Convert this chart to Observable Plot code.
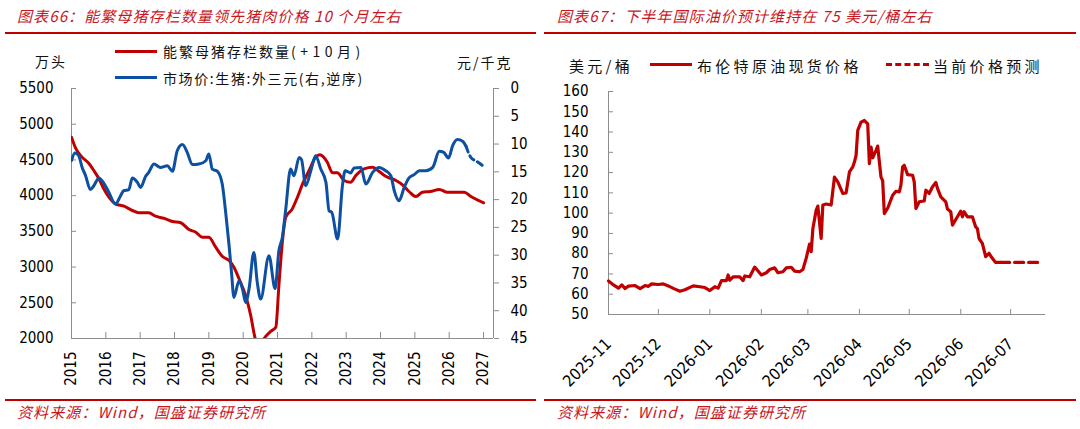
<!DOCTYPE html>
<html><head><meta charset="utf-8">
<script src="https://cdn.jsdelivr.net/npm/d3@7"></script>
<script src="https://cdn.jsdelivr.net/npm/@observablehq/plot@0.6"></script>
<style>
body{margin:0;background:#fff;width:1080px;height:429px;position:relative;overflow:hidden;font-family:"Noto Sans CJK SC",sans-serif;}
.t{position:absolute;white-space:nowrap;line-height:1;transform:translateY(-50%);}
.title{font-style:italic;color:#c8161e;font-size:15px;letter-spacing:1.1px;}
.rule{position:absolute;height:2px;background:#c00000;}
.leg{font-size:14px;letter-spacing:2px;color:#111;}
.wide{letter-spacing:4.5px;}
.leg2{font-size:15px;letter-spacing:3.3px;color:#111;}
.sw{position:absolute;height:0;border-top:3px solid;}
.chart{position:absolute;top:80px;}
.chart svg text{font-stretch:condensed;}
</style></head><body>
<div id="L" class="chart" style="left:0"></div>
<div id="R" class="chart" style="left:540px"></div>

<div class="t title" style="left:17px;top:15px">图表66：能繁母猪存栏数量领先猪肉价格 10 个月左右</div>
<div class="rule" style="left:5px;width:531px;top:32px"></div>
<div class="t leg" style="left:35px;top:61px">万头</div>
<div class="sw" style="left:115px;width:42px;top:50px;border-color:#c00000"></div>
<div class="t leg" style="left:163px;top:51px">能繁母猪存栏数量<span class="wide">(+10月</span>)</div>
<div class="sw" style="left:115px;width:42px;top:76px;border-color:#0d4fa0"></div>
<div class="t leg" style="left:163px;top:78px;letter-spacing:1.6px">市场价:生猪:外三元(右,逆序)</div>
<div class="t leg" style="left:457px;top:62px">元/千克</div>
<div class="rule" style="left:5px;width:531px;top:399px"></div>
<div class="t title" style="left:17px;top:411px">资料来源：Wind，国盛证券研究所</div>

<div class="t title" style="left:557px;top:15px">图表67：下半年国际油价预计维持在 75 美元/桶左右</div>
<div class="rule" style="left:544px;width:532px;top:32px"></div>
<div class="t leg2" style="left:569px;top:65px">美元/桶</div>
<div class="sw" style="left:650px;width:42px;top:63px;border-color:#c00000"></div>
<div class="t leg2" style="left:697px;top:65px">布伦特原油现货价格</div>
<div class="sw" style="left:886px;width:43px;top:63px;border-top:3px dashed #c00000"></div>
<div class="t leg2" style="left:933px;top:65px">当前价格预测</div>
<div class="rule" style="left:544px;width:532px;top:399px"></div>
<div class="t title" style="left:557px;top:411px">资料来源：Wind，国盛证券研究所</div>

<script>
// ---------- Left chart data ----------
const yearTicks = [2015,2016,2017,2018,2019,2020,2021,2022,2023,2024,2025,2026,2027];
const leftTicks = [2000,2500,3000,3500,4000,4500,5000,5500];
const rightTicks = [0,5,10,15,20,25,30,35,40,45];

const sowYear = [2015.00,2015.12,2015.31,2015.49,2015.65,2015.80,2015.94,2016.09,2016.28,2016.53,2016.77,2016.96,2017.25,2017.45,2017.74,2017.94,2018.18,2018.42,2018.62,2018.81,2019.00,2019.20,2019.39,2019.59,2019.73,2019.88,2020.07,2020.22,2020.31,2020.45,2020.61,2020.80,2020.95,2021.04,2021.14,2021.24,2021.43,2021.58,2021.73,2021.92,2022.11,2022.23,2022.45,2022.60,2022.74,2022.94,2023.13,2023.28,2023.52,2023.77,2023.96,2024.15,2024.45,2024.64,2024.83,2025.03,2025.22,2025.45,2025.71,2025.95,2026.44,2026.63,2026.92,2027.00];
const sowValue = [4818,4664,4538,4460,4352,4236,4096,3978,3885,3852,3792,3760,3760,3712,3675,3638,3620,3526,3488,3418,3418,3278,3152,3092,2998,2836,2602,2322,2088,1850,2000,2100,2158,2742,3348,3698,3815,3978,4165,4352,4538,4572,4468,4320,4320,4212,4188,4282,4376,4398,4338,4272,4212,4152,4058,3988,4048,4058,4086,4048,4048,3988,3918,3900];

const hogYear = [2015.00,2015.10,2015.21,2015.31,2015.41,2015.55,2015.65,2015.80,2015.89,2016.09,2016.28,2016.43,2016.52,2016.67,2016.77,2016.92,2017.01,2017.16,2017.25,2017.40,2017.59,2017.79,2017.94,2018.08,2018.23,2018.37,2018.52,2018.71,2018.91,2019.00,2019.10,2019.25,2019.39,2019.49,2019.59,2019.66,2019.73,2019.88,2019.98,2020.07,2020.17,2020.31,2020.41,2020.51,2020.75,2020.93,2021.04,2021.14,2021.24,2021.38,2021.48,2021.63,2021.70,2021.82,2021.97,2022.11,2022.26,2022.41,2022.50,2022.58,2022.75,2022.89,2022.97,2023.13,2023.23,2023.43,2023.57,2023.77,2023.96,2024.15,2024.30,2024.40,2024.54,2024.69,2024.83,2024.98,2025.13,2025.32,2025.52,2025.71,2025.84,2025.98,2026.10,2026.24,2026.39,2026.49];
const hogPrice = [12.96,11.6,12.1,14.2,15.7,18.2,17.5,16.1,16.6,18.7,20.8,19.3,18.4,18.2,16.1,16.9,17.8,15.8,15.1,13.6,14.2,13.9,14.9,11.2,10.1,11.5,13.7,13.6,13.0,11.8,14.5,14.9,17.2,22.3,28.3,33.1,37.6,34.6,36.1,38.5,36.1,29.5,34.9,37.9,30.1,36.0,29.2,26.8,21.7,14.5,15.7,12.4,12.8,17.5,14.8,12.1,14.5,16.9,22.0,22.3,27.1,17.5,14.8,15.2,14.3,14.2,17.2,15.1,14.2,14.8,15.7,18.4,20.2,17.8,16.1,15.5,14.8,14.8,14.2,11.3,11.5,12.5,10.3,9.2,9.5,10.4];
const hogFcYear = [2026.49,2026.63,2026.80,2027.00];
const hogFcPrice = [10.4,12.4,13.1,14.0];

// ---------- Right chart data ----------
const monthTicks = ["2025-11-01","2025-12-01","2026-01-01","2026-02-01","2026-03-01","2026-04-01","2026-05-01","2026-06-01","2026-07-01"];
const oilTicks = [50,60,70,80,90,100,110,120,130,140,150,160];
const oilDates = ["2025-11-01","2025-11-04","2025-11-07","2025-11-09","2025-11-11","2025-11-13","2025-11-17","2025-11-20","2025-11-23","2025-11-25","2025-11-27","2025-12-01","2025-12-04","2025-12-07","2025-12-10","2025-12-14","2025-12-17","2025-12-22","2025-12-26","2025-12-29","2026-01-01","2026-01-04","2026-01-06","2026-01-08","2026-01-11","2026-01-12","2026-01-13","2026-01-15","2026-01-19","2026-01-21","2026-01-22","2026-01-25","2026-01-28","2026-02-01","2026-02-04","2026-02-06","2026-02-09","2026-02-11","2026-02-14","2026-02-16","2026-02-19","2026-02-21","2026-02-24","2026-02-26","2026-02-28","2026-03-02","2026-03-03","2026-03-04","2026-03-06","2026-03-07","2026-03-09","2026-03-10","2026-03-12","2026-03-15","2026-03-17","2026-03-19","2026-03-22","2026-03-24","2026-03-26","2026-03-28","2026-03-29","2026-03-30","2026-03-31","2026-04-02","2026-04-04","2026-04-06","2026-04-07","2026-04-08","2026-04-09","2026-04-11","2026-04-12","2026-04-14","2026-04-15","2026-04-16","2026-04-18","2026-04-21","2026-04-23","2026-04-25","2026-04-26","2026-04-27","2026-04-28","2026-04-30","2026-05-03","2026-05-04","2026-05-05","2026-05-07","2026-05-10","2026-05-11","2026-05-13","2026-05-15","2026-05-17","2026-05-18","2026-05-20","2026-05-23","2026-05-24","2026-05-26","2026-05-27","2026-05-30","2026-06-01","2026-06-02","2026-06-03","2026-06-05","2026-06-08","2026-06-10","2026-06-11","2026-06-12","2026-06-14","2026-06-16","2026-06-18","2026-06-20","2026-06-22","2026-06-25"];
const oilPrice = [66.5,64.6,63.0,64.6,62.8,64.0,64.3,62.8,64.3,63.9,65.1,64.8,65.1,64.1,62.9,61.5,62.2,64.1,63.7,63.3,61.8,63.7,63.0,66.7,66.7,69.5,66.9,68.6,68.6,66.7,69.0,68.6,73.4,69.5,70.6,72.2,73.0,70.6,71.1,73.0,73.3,71.4,71.1,72.2,77.8,84.7,81.0,92.4,101.5,103.5,87.5,104.0,104.5,104.0,117.8,115.4,109.7,110.0,120.3,122.8,125.2,128.5,140.8,144.9,145.7,144.0,124.4,132.6,127.3,131.0,133.1,117.8,116.0,99.8,102.4,108.8,110.8,110.5,113.8,122.8,123.6,119.0,118.7,115.4,102.3,105.6,106.0,111.3,109.7,113.0,115.1,112.2,108.0,105.6,102.0,100.7,94.1,98.2,101.0,98.2,100.7,98.2,98.2,93.2,92.4,87.5,85.1,78.5,80.2,77.7,75.7,75.7];
const fcDates = ["2026-06-25","2026-07-20"];
const fcPrice = [75.7,75.7];

// ---------- styling constants ----------
const RED = "#c00000", BLUE = "#0d4fa0", GRAY = "#8c8c8c";
const tickFont = {fontFamily:"'DejaVu Sans Condensed','DejaVu Sans',sans-serif", fontSize:"15px", background:"transparent", overflow:"visible", color:"#000"};

// left axis range for dual-axis mapping
const L0 = 5500, L1 = 2000, P1 = 45;
const toLeft = p => L0 - p * (L0 - L1) / P1;
const toPrice = v => (L0 - v) * P1 / (L0 - L1);

const sow = sowYear.map((x,i)=>({x, v: sowValue[i]}));
const hog = hogYear.map((x,i)=>({x, v: toLeft(hogPrice[i])}));
const hogFc = hogFcYear.map((x,i)=>({x, v: toLeft(hogFcPrice[i])}));
const XMAX = 2027.29;

const left = Plot.plot({
  width: 540, height: 320,
  marginLeft: 71, marginRight: 47, marginTop: 8, marginBottom: 62,
  style: tickFont,
  x: {domain: [2015, XMAX]},
  y: {domain: [L1, L0]},
  marks: [
    Plot.ruleX([2015], {stroke: GRAY}),
    Plot.ruleX([XMAX], {stroke: GRAY}),
    Plot.ruleY([L1], {stroke: GRAY}),
    Plot.axisY(leftTicks, {anchor:"left", tickSize:-5, tickPadding:23, stroke:GRAY, fill:"#000", label:null, tickFormat: d => String(d)}),
    Plot.axisY(rightTicks.map(toLeft), {anchor:"right", tickSize:5, tickPadding:12, stroke:GRAY, fill:"#000", label:null, tickFormat: v => String(Math.round(toPrice(v)))}),
    Plot.axisX(yearTicks, {anchor:"bottom", tickSize:-6, tickPadding:19, tickRotate:-90, stroke:GRAY, fill:"#000", label:null, tickFormat: d => String(d)}),
    Plot.line(sow, {x:"x", y:"v", stroke:RED, strokeWidth:3, clip:true, curve:"monotone-x"}),
    Plot.line(hog, {x:"x", y:"v", stroke:BLUE, strokeWidth:3, clip:true, curve:"monotone-x"}),
    Plot.line(hogFc, {x:"x", y:"v", stroke:BLUE, strokeWidth:3, strokeDasharray:"6,4", clip:true, curve:"monotone-x"})
  ]
});
document.getElementById("L").append(left);

const oil = oilDates.map((d,i)=>({d:new Date(d), p: oilPrice[i]}));
const fc = fcDates.map((d,i)=>({d:new Date(d), p: fcPrice[i]}));
const XD0 = new Date("2025-11-01"), XD1 = new Date("2026-07-22");
const fmt = d3.utcFormat("%Y-%m");

const right = Plot.plot({
  width: 540, height: 320,
  marginLeft: 68, marginRight: 35, marginTop: 11, marginBottom: 86,
  style: tickFont,
  x: {type:"utc", domain: [XD0, XD1]},
  y: {domain: [50, 160]},
  marks: [
    Plot.ruleX([XD0], {stroke: GRAY}),
    Plot.ruleY([50], {stroke: GRAY}),
    Plot.axisY(oilTicks, {anchor:"left", tickSize:-5, tickPadding:25, stroke:GRAY, fill:"#000", label:null, tickFormat: d => String(d)}),
    Plot.axisX(monthTicks.map(d=>new Date(d)), {anchor:"bottom", tickSize:-5, tickPadding:32, tickRotate:-45, stroke:GRAY, fill:"#000", fontSize:16, label:null, tickFormat: fmt}),
    Plot.line(oil, {x:"d", y:"p", stroke:RED, strokeWidth:3.2}),
    Plot.line(fc, {x:"d", y:"p", stroke:RED, strokeWidth:3.2, strokeDasharray:"9,5"})
  ]
});
document.getElementById("R").append(right);
</script>
</body></html>
